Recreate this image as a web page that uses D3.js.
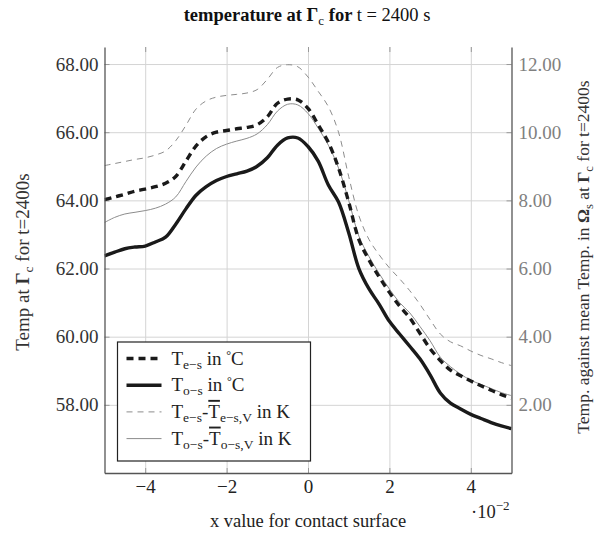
<!DOCTYPE html>
<html>
<head>
<script src="https://d3js.org/d3.v7.min.js"></script>
<style>
  body { margin: 0; background: #fff; }
  text { font-family: "Liberation Serif", "Times New Roman", "DejaVu Serif", serif; }
</style>
</head>
<body>
<svg class="chart"></svg>
<script>
var svgWidth = 597, svgHeight = 534,
    margin = {top: 47, right: 85.5, bottom: 61, left: 104.5},
    width = svgWidth - margin.left - margin.right,
    height = svgHeight - margin.top - margin.bottom;

// x positions (in units of 10^-2)
var xValues = [-5, -4.75, -4.5, -4.25, -4, -3.75, -3.5, -3.25, -3, -2.75, -2.5, -2.25, -2, -1.75, -1.5, -1.25, -1, -0.75, -0.5, -0.25,
               0, 0.25, 0.5, 0.75, 1, 1.25, 1.5, 1.75, 2, 2.25, 2.5, 2.75, 3, 3.25, 3.5, 3.75, 4, 4.25, 4.5, 4.75, 5];

// left axis, degC
var tEs = [64.02, 64.10, 64.18, 64.27, 64.33, 64.40, 64.50, 64.70, 65.15, 65.60, 65.87, 66.00, 66.05, 66.10, 66.14, 66.22, 66.45, 66.85, 66.97, 66.95,
           66.70, 66.22, 65.70, 64.95, 63.95, 62.85, 62.25, 61.75, 61.30, 60.90, 60.55, 60.10, 59.65, 59.30, 59.02, 58.85, 58.70, 58.56, 58.43, 58.30, 58.20];
var tOs = [62.37, 62.48, 62.58, 62.63, 62.66, 62.78, 62.92, 63.30, 63.75, 64.15, 64.40, 64.58, 64.70, 64.78, 64.86, 65.00, 65.25, 65.62, 65.83, 65.83,
           65.58, 65.15, 64.45, 63.95, 63.05, 62.00, 61.40, 60.95, 60.45, 60.08, 59.72, 59.35, 58.88, 58.35, 58.05, 57.88, 57.72, 57.60, 57.48, 57.38, 57.30];
// right axis, K
var dEs = [9.02, 9.08, 9.14, 9.20, 9.25, 9.33, 9.45, 9.75, 10.20, 10.68, 10.92, 11.03, 11.08, 11.11, 11.15, 11.25, 11.55, 11.90, 11.98, 11.92,
           11.62, 11.20, 10.75, 10.00, 8.70, 7.55, 6.85, 6.40, 6.02, 5.70, 5.35, 4.95, 4.50, 4.08, 3.85, 3.73, 3.58, 3.45, 3.35, 3.24, 3.15];
var dOs = [7.35, 7.50, 7.60, 7.65, 7.70, 7.77, 7.89, 8.10, 8.55, 8.98, 9.30, 9.52, 9.65, 9.74, 9.82, 9.95, 10.22, 10.62, 10.82, 10.80,
           10.55, 10.12, 9.62, 8.95, 8.00, 6.95, 6.35, 5.85, 5.40, 5.00, 4.70, 4.30, 3.88, 3.40, 3.12, 2.90, 2.72, 2.60, 2.48, 2.36, 2.27];

var xTicks = [-4, -2, 0, 2, 4];
var leftTicks = [58, 60, 62, 64, 66, 68];
var rightTicks = [2, 4, 6, 8, 10, 12];

var xScale = d3.scaleLinear().domain([-5, 5]).range([0, width]);
var yLeft = d3.scaleLinear().domain([56, 68.5]).range([height, 0]);
var yRight = d3.scaleLinear().domain([0, 12.5]).range([height, 0]);

var svg = d3.select(".chart").attr("width", svgWidth).attr("height", svgHeight);
var g = svg.append("g").attr("transform", "translate(" + margin.left + "," + margin.top + ")");

// grid
g.append("g").attr("class", "grid")
  .attr("transform", "translate(0," + height + ")")
  .call(d3.axisBottom(xScale).tickValues(xTicks).tickSize(-height).tickFormat(""))
  .call(s => s.select(".domain").remove())
  .call(s => s.selectAll("line").attr("stroke", "#d4d4d4"));
g.append("g").attr("class", "grid")
  .call(d3.axisLeft(yLeft).tickValues(leftTicks).tickSize(-width).tickFormat(""))
  .call(s => s.select(".domain").remove())
  .call(s => s.selectAll("line").attr("stroke", "#d4d4d4"));

// inner tick marks
g.append("g").attr("transform", "translate(0," + height + ")")
  .call(d3.axisBottom(xScale).tickValues(xTicks).tickSize(-5).tickFormat(""))
  .call(s => s.select(".domain").remove())
  .call(s => s.selectAll("line").attr("stroke", "#999"));
g.append("g")
  .call(d3.axisTop(xScale).tickValues(xTicks).tickSize(-5).tickFormat(""))
  .call(s => s.select(".domain").remove())
  .call(s => s.selectAll("line").attr("stroke", "#999"));
g.append("g")
  .call(d3.axisLeft(yLeft).tickValues(leftTicks).tickSize(-5).tickFormat(""))
  .call(s => s.select(".domain").remove())
  .call(s => s.selectAll("line").attr("stroke", "#999"));
g.append("g").attr("transform", "translate(" + width + ",0)")
  .call(d3.axisRight(yRight).tickValues(rightTicks).tickSize(-5).tickFormat(""))
  .call(s => s.select(".domain").remove())
  .call(s => s.selectAll("line").attr("stroke", "#999"));

// curves
g.append("clipPath").attr("id", "clip").append("rect").attr("width", width).attr("height", height);

var rows = xValues.map((x, i) => ({x: x, es: tEs[i], os: tOs[i], des: dEs[i], dos: dOs[i]}));
var lineOf = (key, yS) => d3.line().x(d => xScale(d.x)).y(d => yS(d[key])).curve(d3.curveCatmullRom.alpha(0.5));

var series = [
  {key: "des", scale: yRight, stroke: "#8c8c8c", width: 1, dash: "6,5"},
  {key: "dos", scale: yRight, stroke: "#8c8c8c", width: 1, dash: null},
  {key: "os", scale: yLeft, stroke: "#1a1a1a", width: 3.4, dash: null},
  {key: "es", scale: yLeft, stroke: "#1a1a1a", width: 3.4, dash: "7,5"}
];
var plot = g.append("g").attr("clip-path", "url(#clip)");
series.forEach(s => {
  plot.append("path").datum(rows)
    .attr("fill", "none")
    .attr("stroke", s.stroke)
    .attr("stroke-width", s.width)
    .attr("stroke-dasharray", s.dash)
    .attr("d", lineOf(s.key, s.scale));
});

// axes
var bottomAxis = g.append("g").attr("transform", "translate(0," + height + ")")
  .call(d3.axisBottom(xScale).tickValues(xTicks).tickSize(0).tickPadding(7).tickFormat(d3.format("d")));
var leftAxis = g.append("g")
  .call(d3.axisLeft(yLeft).tickValues(leftTicks).tickSize(0).tickPadding(6).tickFormat(d3.format(".2f")));
var rightAxis = g.append("g").attr("transform", "translate(" + width + ",0)")
  .call(d3.axisRight(yRight).tickValues(rightTicks).tickSize(0).tickPadding(7).tickFormat(d3.format(".2f")));

[bottomAxis, leftAxis, rightAxis].forEach(a => {
  a.select(".domain").attr("stroke", "#555").attr("stroke-width", 1.3);
  a.selectAll("text").style("font-family", "'Liberation Serif', 'Times New Roman', serif").style("font-size", "19px");
});
bottomAxis.selectAll("text").attr("fill", "#222");
leftAxis.selectAll("text").attr("fill", "#333");
rightAxis.selectAll("text").attr("fill", "#808080");

// legend
var legendItems = [
  {dash: "7,5", width: 3.4, stroke: "#1a1a1a", main: "e−s", kind: "C"},
  {dash: null, width: 3.4, stroke: "#1a1a1a", main: "o−s", kind: "C"},
  {dash: "6,5", width: 1, stroke: "#8c8c8c", main: "e−s", kind: "K"},
  {dash: null, width: 1, stroke: "#8c8c8c", main: "o−s", kind: "K"}
];
var lg = svg.append("g").attr("transform", "translate(117.5,342)");
lg.append("rect").attr("width", 193).attr("height", 119)
  .attr("fill", "#fff").attr("stroke", "#222").attr("stroke-width", 1.2);
legendItems.forEach((d, i) => {
  var y = 16.5 + i * 26.7;
  lg.append("line").attr("x1", 9).attr("x2", 44).attr("y1", y).attr("y2", y)
    .attr("stroke", d.stroke).attr("stroke-width", d.width).attr("stroke-dasharray", d.dash);
  var t = lg.append("text").attr("x", 54).attr("y", y + 6).attr("fill", "#222").style("font-size", "19px");
  t.append("tspan").text("T");
  t.append("tspan").attr("dy", 4).style("font-size", "13.5px").text(d.main);
  if (d.kind === "C") {
    t.append("tspan").attr("dy", -4).text(" in ");
    t.append("tspan").attr("dy", -6).style("font-size", "12px").text("°");
    t.append("tspan").attr("dy", 6).text("C");
  } else {
    t.append("tspan").attr("dy", -4).text("-");
    t.append("tspan").style("text-decoration", "overline").text("T");
    t.append("tspan").attr("dy", 4).style("font-size", "13.5px").text(d.main + ",V");
    t.append("tspan").attr("dy", -4).text(" in K");
  }
});

// title
var title = svg.append("text").attr("x", 307).attr("y", 21).attr("text-anchor", "middle")
  .attr("fill", "#111").style("font-size", "18.5px");
title.append("tspan").style("font-weight", "bold").text("temperature at Γ");
title.append("tspan").attr("dy", 4).style("font-size", "13px").text("c");
title.append("tspan").attr("dy", -4).style("font-weight", "bold").text(" for ");
title.append("tspan").text("t = 2400 s");

// x label
svg.append("text").attr("x", 308).attr("y", 527).attr("text-anchor", "middle")
  .attr("fill", "#222").style("font-size", "18.5px").text("x value for contact surface");
var mult = svg.append("text").attr("x", 471).attr("y", 518).attr("fill", "#222").style("font-size", "18.5px");
mult.append("tspan").text("·10");
mult.append("tspan").attr("dy", -8).style("font-size", "13px").text("−2");

// left label
var ll = svg.append("text").attr("transform", "translate(29,262) rotate(-90)")
  .attr("text-anchor", "middle").attr("fill", "#333").style("font-size", "19px");
ll.append("tspan").text("Temp at ");
ll.append("tspan").style("font-weight", "bold").text("Γ");
ll.append("tspan").attr("dy", 4).style("font-size", "13.5px").text("c");
ll.append("tspan").attr("dy", -4).text(" for t=2400s");

// right label
var rl = svg.append("text").attr("transform", "translate(589,257) rotate(-90)")
  .attr("text-anchor", "middle").attr("fill", "#333").style("font-size", "17.5px");
rl.append("tspan").text("Temp. against mean Temp. in ");
rl.append("tspan").style("font-weight", "bold").text("Ω");
rl.append("tspan").attr("dy", 3.5).style("font-size", "12.5px").text("s");
rl.append("tspan").attr("dy", -3.5).text(" at ");
rl.append("tspan").style("font-weight", "bold").text("Γ");
rl.append("tspan").attr("dy", 3.5).style("font-size", "12.5px").text("c");
rl.append("tspan").attr("dy", -3.5).text(" for t=2400s");
</script>
</body>
</html>
